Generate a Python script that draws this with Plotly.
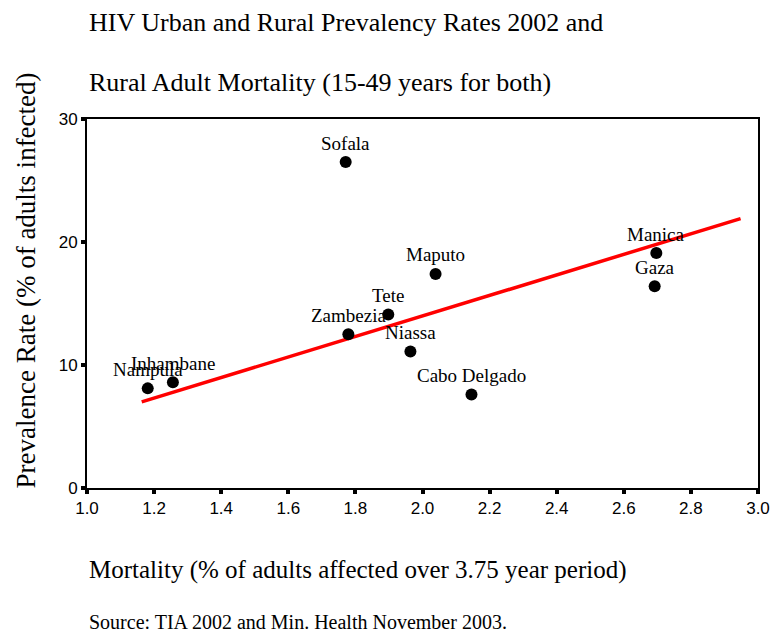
import plotly.graph_objects as go

provinces = ["Nampula", "Inhambane", "Sofala", "Maputo", "Tete", "Zambezia",
             "Niassa", "Cabo Delgado", "Manica", "Gaza"]
mortality = [1.181, 1.256, 1.771, 2.039, 1.898, 1.779, 1.964, 2.146, 2.697, 2.692]
prevalence = [8.1, 8.6, 26.5, 17.4, 14.1, 12.5, 11.1, 7.6, 19.1, 16.4]

fit_x = [1.163, 2.948]
fit_y = [7.0, 21.9]

x_ticks = [1.0, 1.2, 1.4, 1.6, 1.8, 2.0, 2.2, 2.4, 2.6, 2.8, 3.0]
y_ticks = [0, 10, 20, 30]

SERIF = "Liberation Serif, Times New Roman, serif"
SANS = "Liberation Sans, Arial, sans-serif"

fig = go.Figure()
fig.add_trace(go.Scatter(x=fit_x, y=fit_y, mode="lines",
                         line=dict(color="#ff0000", width=3.5), hoverinfo="skip"))
fig.add_trace(go.Scatter(x=mortality, y=prevalence, mode="markers",
                         marker=dict(color="black", size=12), text=provinces))

annotations = []
for name, xv, yv in zip(provinces, mortality, prevalence):
    annotations.append(dict(x=xv, y=yv, text=name, showarrow=False, xanchor="center",
                            yanchor="middle", yshift=19,
                            font=dict(family=SERIF, size=19, color="black")))

annotations += [
    dict(xref="paper", yref="paper", x=0, y=1, xanchor="left", yanchor="middle",
         yshift=97, showarrow=False,
         text="HIV Urban and Rural Prevalency Rates 2002 and",
         font=dict(family=SERIF, size=26, color="black")),
    dict(xref="paper", yref="paper", x=0, y=1, xanchor="left", yanchor="middle",
         yshift=37, showarrow=False,
         text="Rural Adult Mortality (15-49 years for both)",
         font=dict(family=SERIF, size=26, color="black")),
    dict(xref="paper", yref="paper", x=0, y=0, xanchor="left", yanchor="middle",
         yshift=-82, showarrow=False,
         text="Mortality (% of adults affected over 3.75 year period)",
         font=dict(family=SERIF, size=25, color="black")),
    dict(xref="paper", yref="paper", x=0, y=0, xanchor="left", yanchor="middle",
         yshift=-134, showarrow=False,
         text="Source: TIA 2002 and Min. Health November 2003.",
         font=dict(family=SERIF, size=20, color="black")),
    dict(xref="paper", yref="paper", x=0, y=0.5, xanchor="center", yanchor="middle",
         xshift=-62, yshift=23, showarrow=False, textangle=-90,
         text="Prevalence Rate (% of adults infected)",
         font=dict(family=SERIF, size=27, color="black")),
]

fig.update_layout(
    width=772, height=633,
    margin=dict(l=87, r=14, t=119, b=145, autoexpand=False),
    plot_bgcolor="white", paper_bgcolor="white",
    showlegend=False,
    annotations=annotations,
    xaxis=dict(range=[1.0, 3.0], tickvals=x_ticks,
               ticktext=[f"{v:.1f}" for v in x_ticks], automargin=False,
               showgrid=False, zeroline=False, showline=True, mirror=True,
               linecolor="black", linewidth=2, ticks="outside", ticklen=4,
               tickwidth=4, tickcolor="black",
               tickfont=dict(family=SANS, size=17, color="black")),
    yaxis=dict(range=[0, 30], tickvals=y_ticks, automargin=False,
               showgrid=False, zeroline=False, showline=True, mirror=True,
               linecolor="black", linewidth=2, ticks="outside", ticklen=4,
               tickwidth=4, tickcolor="black",
               tickfont=dict(family=SANS, size=17, color="black")),
)

fig.write_html(
    "out.html",
    config={"displayModeBar": False},
    post_script="document.body.style.margin='0';document.body.style.overflow='hidden';",
)
